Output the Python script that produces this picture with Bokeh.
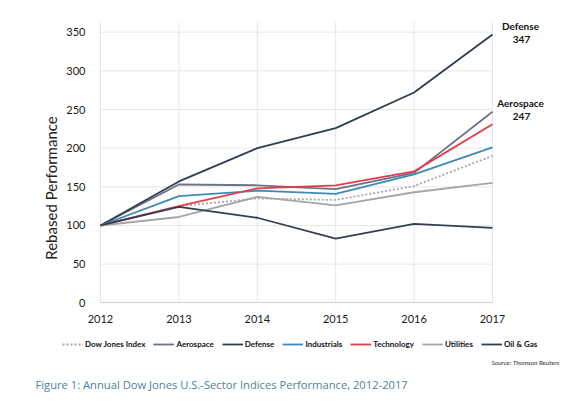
import math
from bokeh.plotting import figure
from bokeh.models import Range1d, FixedTicker, Legend, LegendItem, ColumnDataSource, Label
from bokeh.core.properties import value
from bokeh.embed import file_html
from bokeh.resources import INLINE

years = [2012, 2013, 2014, 2015, 2016, 2017]
dow_jones = [100, 125, 135, 133, 151, 190]
aerospace = [100, 153, 152, 147, 168, 247]
defense = [100, 157, 200, 226, 272, 347]
industrials = [100, 138, 145, 141, 166, 201]
technology = [100, 125, 148, 152, 170, 231]
utilities = [100, 111, 137, 126, 143, 155]
oil_gas = [100, 124, 110, 83, 102, 97]
y_ticks = [0, 50, 100, 150, 200, 250, 300, 350]
y_top = 363

series = [
    ("Dow Jones Index", dow_jones, "#a6a6a6", "2 2"),
    ("Aerospace", aerospace, "#6b7384", "solid"),
    ("Defense", defense, "#2f3d52", "solid"),
    ("Industrials", industrials, "#3b8bb5", "solid"),
    ("Technology", technology, "#e63b4c", "solid"),
    ("Utilities", utilities, "#a6a6a6", "solid"),
    ("Oil & Gas", oil_gas, "#333f50", "solid"),
]

FONT = "Lato"

# page geometry (pixels)
W, H = 570, 398
PX_LEFT, PX_RIGHT = 100, 492      # x pixel of first / last year
PX_ZERO, PX_350 = 302.3, 31.7     # y pixel of 0 / 350
xs = (PX_RIGHT - PX_LEFT) / (years[-1] - years[0])
ys = (PX_ZERO - PX_350) / 350.0

p = figure(width=W, height=H, output_backend="svg", toolbar_location=None,
           x_range=Range1d(years[0] - PX_LEFT / xs, years[0] + (W - PX_LEFT) / xs),
           y_range=Range1d(-(H - PX_ZERO) / ys, PX_ZERO / ys),
           min_border_left=0, min_border_right=0, min_border_top=0, min_border_bottom=0)
p.outline_line_color = None
p.background_fill_color = "white"
p.border_fill_color = "white"
p.grid.visible = False

# grid lines (within the chart area only)
p.segment(x0=years, y0=[0] * len(years), x1=years, y1=[y_top] * len(years),
          line_color="#e6e6e6", line_width=1)
p.segment(x0=[years[0]] * len(y_ticks[1:]), y0=y_ticks[1:], x1=[years[-1]] * len(y_ticks[1:]),
          y1=y_ticks[1:], line_color="#e6e6e6", line_width=1)

# axes pinned to the chart
p.xaxis.fixed_location = 0
p.xaxis.bounds = (years[0], years[-1])
p.xaxis.ticker = FixedTicker(ticks=years)
p.xaxis.axis_line_color = "#d0d0d0"
p.xaxis.major_label_standoff = 6
p.yaxis.fixed_location = years[0]
p.yaxis.bounds = (0, y_ticks[-1])
p.yaxis.ticker = FixedTicker(ticks=y_ticks)
p.yaxis.axis_line_color = None
p.yaxis.major_label_standoff = 9
for ax in (p.xaxis, p.yaxis):
    ax.major_tick_line_color = None
    ax.minor_tick_line_color = None
    ax.major_label_text_font = FONT
    ax.major_label_text_font_size = "11px"
    ax.major_label_text_color = "#1a1a1a"

items = []
for name, vals, color, dash in series:
    src = ColumnDataSource(dict(x=years, y=vals))
    r = p.line("x", "y", source=src, line_color=color, line_width=1.8, line_dash=dash)
    items.append(LegendItem(label=name, renderers=[r]))

# end-of-line labels
for name, vals in (("Defense", defense), ("Aerospace", aerospace)):
    src = ColumnDataSource(dict(x=[years[-1]], y=[vals[-1]], t=[name], v=[str(vals[-1])]))
    p.text("x", "y", text="t", source=src, x_offset=28, y_offset=-8.5,
           text_font=value(FONT), text_font_style="bold", text_font_size="10px",
           text_align="center", text_baseline="middle", text_color="#111111")
    p.text("x", "y", text="v", source=src, x_offset=29, y_offset=5,
           text_font=value(FONT), text_font_style="bold", text_font_size="10px",
           text_align="center", text_baseline="middle", text_color="#111111")

legend = Legend(items=items, orientation="horizontal", location=(62, 48),
                label_text_font=FONT, label_text_font_style="bold", label_text_font_size="8px",
                label_text_color="#111111", label_standoff=2, spacing=8,
                glyph_width=21, glyph_height=12, label_height=12,
                padding=0, margin=0, border_line_color=None, background_fill_alpha=0)
p.add_layout(legend, "center")

p.add_layout(Label(x=50, y=H - 187.5, x_units="screen", y_units="screen", text="Rebased Performance",
                   angle=math.pi / 2, text_align="center", text_baseline="middle",
                   text_font=FONT, text_font_size="15px", text_color="#222222"))
p.add_layout(Label(x=559, y=H - 361.7, x_units="screen", y_units="screen",
                   text="Source: Thomson Reuters", text_align="right", text_baseline="middle",
                   text_font=FONT, text_font_style="italic", text_font_size="6.5px",
                   text_color="#333333"))
p.add_layout(Label(x=35, y=H - 384, x_units="screen", y_units="screen",
                   text="Figure 1: Annual Dow Jones U.S.-Sector Indices Performance, 2012-2017",
                   text_align="left", text_baseline="middle", text_font="Open Sans",
                   text_font_size="11.2px", text_color="#4f80a3"))

open("out.html", "w").write(file_html(p, INLINE))
